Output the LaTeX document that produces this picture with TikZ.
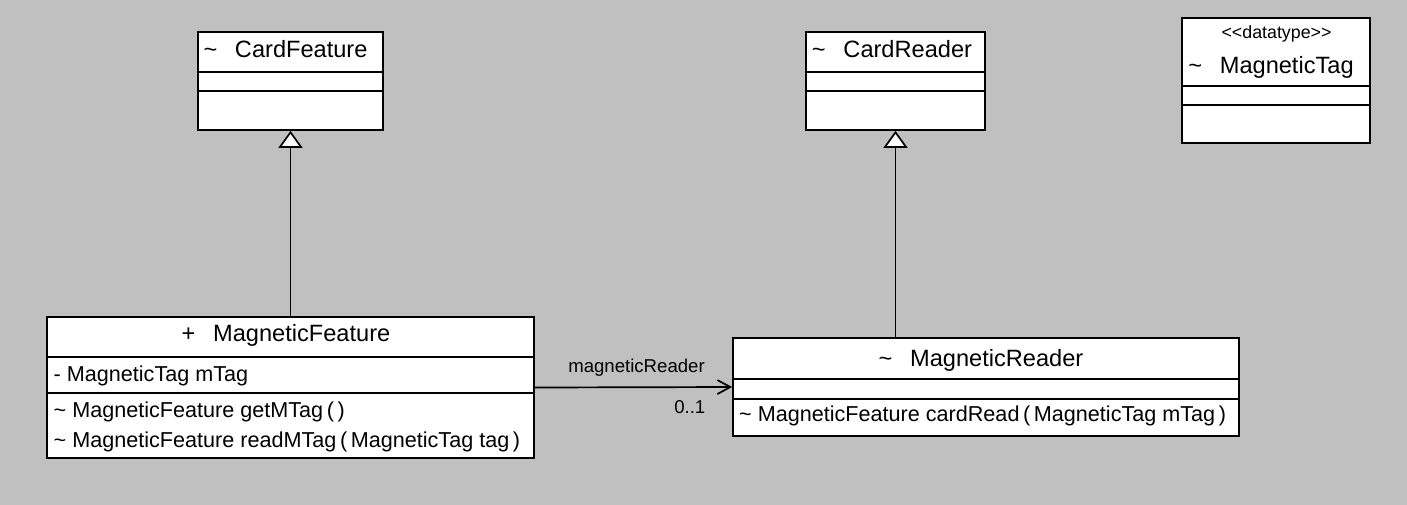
\documentclass[tikz,border=0pt]{standalone}
\usepackage{fontspec}
\setmainfont{Liberation Sans}
\usetikzlibrary{arrows.meta}
\definecolor{canvas}{RGB}{192,192,192}
\newcommand{\tgap}{\hspace{0.75em}}
\tikzset{
  classbox/.style={draw, fill=white, line width=1.7pt, inner sep=0pt},
  divider/.style={line width=1.7pt},
  titletext/.style={inner sep=0pt, anchor=base, font=\fontsize{23.6}{28}\selectfont},
  stereotext/.style={inner sep=0pt, anchor=base, font=\fontsize{17.8}{20}\selectfont},
  membertext/.style={inner sep=0pt, anchor=base west, font=\fontsize{21.6}{24}\selectfont},
  assoctext/.style={inner sep=0pt, font=\fontsize{18.6}{22}\selectfont},
  inherit/.style={line width=1.7pt, -{Triangle[length=17pt,width=24pt,fill=white]}},
  assoc/.style={line width=1.7pt, -{Straight Barb[length=13pt,width=14pt]}}
}
\begin{document}
\begin{tikzpicture}[x=1pt,y=-1pt]
\useasboundingbox (0,0) rectangle (1407,504);
\fill[canvas] (-10,-10) rectangle (1417,514);

% class boxes
\node[classbox, minimum width=185pt, minimum height=98pt] (cardfeature) at (290.5,81) {};
\node[classbox, minimum width=179pt, minimum height=98pt] (cardreader) at (895.5,81) {};
\node[classbox, minimum width=188pt, minimum height=125pt] (magtag) at (1276,80.5) {};
\node[classbox, minimum width=487pt, minimum height=141pt] (magfeature) at (290.5,387.5) {};
\node[classbox, minimum width=506pt, minimum height=98pt] (magreader) at (986,387) {};

% compartments
\foreach \n/\ya/\yb in {cardfeature/72/91, cardreader/72/91, magtag/86/105,
                        magfeature/357/393, magreader/379/399}
{   \draw[divider] (\n.west |- 0,\ya) -- (\n.east |- 0,\ya);
    \draw[divider] (\n.west |- 0,\yb) -- (\n.east |- 0,\yb);
}

% names and members
\node[titletext] (cardfeature-name) at (285.5,57.5) {\textasciitilde\tgap CardFeature};
\node[titletext] (cardreader-name) at (892,57.5) {\textasciitilde\tgap CardReader};
\node[stereotext] (magtag-stereo) at (1276.5,38) {<\kern0pt<datatype>\kern0pt>};
\node[titletext] (magtag-name) at (1271,73.3) {\textasciitilde\tgap MagneticTag};
\node[titletext] (magfeature-name) at (286,341.7) {+\tgap MagneticFeature};
\node[membertext] (magfeature-attr) at (53.5,381) {- MagneticTag mTag};
\node[membertext] (magfeature-op1) at (53.5,417.3) {\textasciitilde{} MagneticFeature getMTag\,(\,)};
\node[membertext] (magfeature-op2) at (53.5,447.7) {\textasciitilde{} MagneticFeature readMTag\,(\,MagneticTag tag\,)};
\node[titletext] (magreader-name) at (981,366) {\textasciitilde\tgap MagneticReader};
\node[membertext] (magreader-op) at (739,421.7) {\textasciitilde{} MagneticFeature cardRead\,(\,MagneticTag mTag\,)};

% relations
\draw[inherit] (magfeature.north) -- (cardfeature.south);
\draw[inherit] (magreader.north -| cardreader.south) -- (cardreader.south);
\draw[assoc] (magfeature.east) -- (magreader.west);
\node[assoctext] (role) at (636.5,367.5) {magneticReader};
\node[assoctext, anchor=east] (mult) at (705.5,407) {0..1};
\end{tikzpicture}
\end{document}
